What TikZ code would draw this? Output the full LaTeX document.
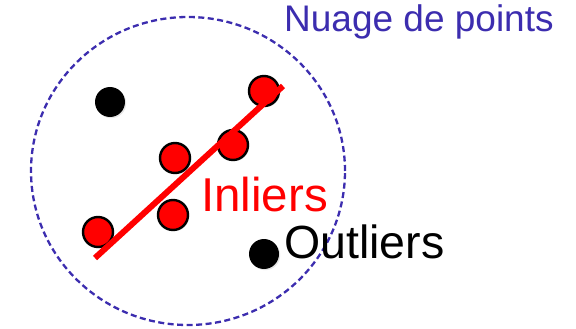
\documentclass[tikz,border=0pt]{standalone}
\usepackage{fontspec}
\setmainfont{Liberation Sans}
\usetikzlibrary{shadows}
\definecolor{nuage}{RGB}{60,45,175}
\definecolor{inred}{RGB}{255,0,0}
\tikzset{
  inlier/.style={circle, draw=black, line width=2.4pt, fill=inred, minimum size=30pt, inner sep=0pt,
    drop shadow={opacity=0.25, shadow xshift=1.2pt, shadow yshift=-1.2pt}},
  outlier/.style={circle, fill=black, minimum size=30pt, inner sep=0pt,
    drop shadow={opacity=0.2, shadow xshift=1.2pt, shadow yshift=-1.2pt}},
  cloud/.style={draw=nuage, dash pattern=on 6pt off 3.5pt, line width=2.3pt},
  lbl/.style={inner sep=0pt, anchor=base west},
}
\begin{document}
\begin{tikzpicture}[x=1pt,y=1pt]
\useasboundingbox (0,0) rectangle (576,-329);
\draw[cloud] (188,-171) ellipse [x radius=157, y radius=154];
\node[lbl, text=nuage, font=\fontsize{37}{40}\selectfont] (title) at (284,-32) {Nuage de points};
\node[outlier] (o1) at (110,-102) {};
\node[outlier] (o2) at (264,-254) {};
\node[inlier] (p1) at (264,-91) {};
\node[inlier] (p2) at (233,-145) {};
\node[inlier] (p3) at (175,-158) {};
\node[inlier] (p4) at (173,-215) {};
\node[inlier] (p5) at (98,-232) {};
\coordinate (la) at (95,-258);
\coordinate (lb) at (283,-86);
\draw[inred, line width=6pt] (la) -- (lb);
\node[lbl, text=inred, font=\fontsize{47.5}{50}\selectfont] (inl) at (201,-211) {Inliers};
\node[lbl, text=black, font=\fontsize{46.5}{50}\selectfont] (outl) at (284,-258) {Outliers};
\end{tikzpicture}
\end{document}
